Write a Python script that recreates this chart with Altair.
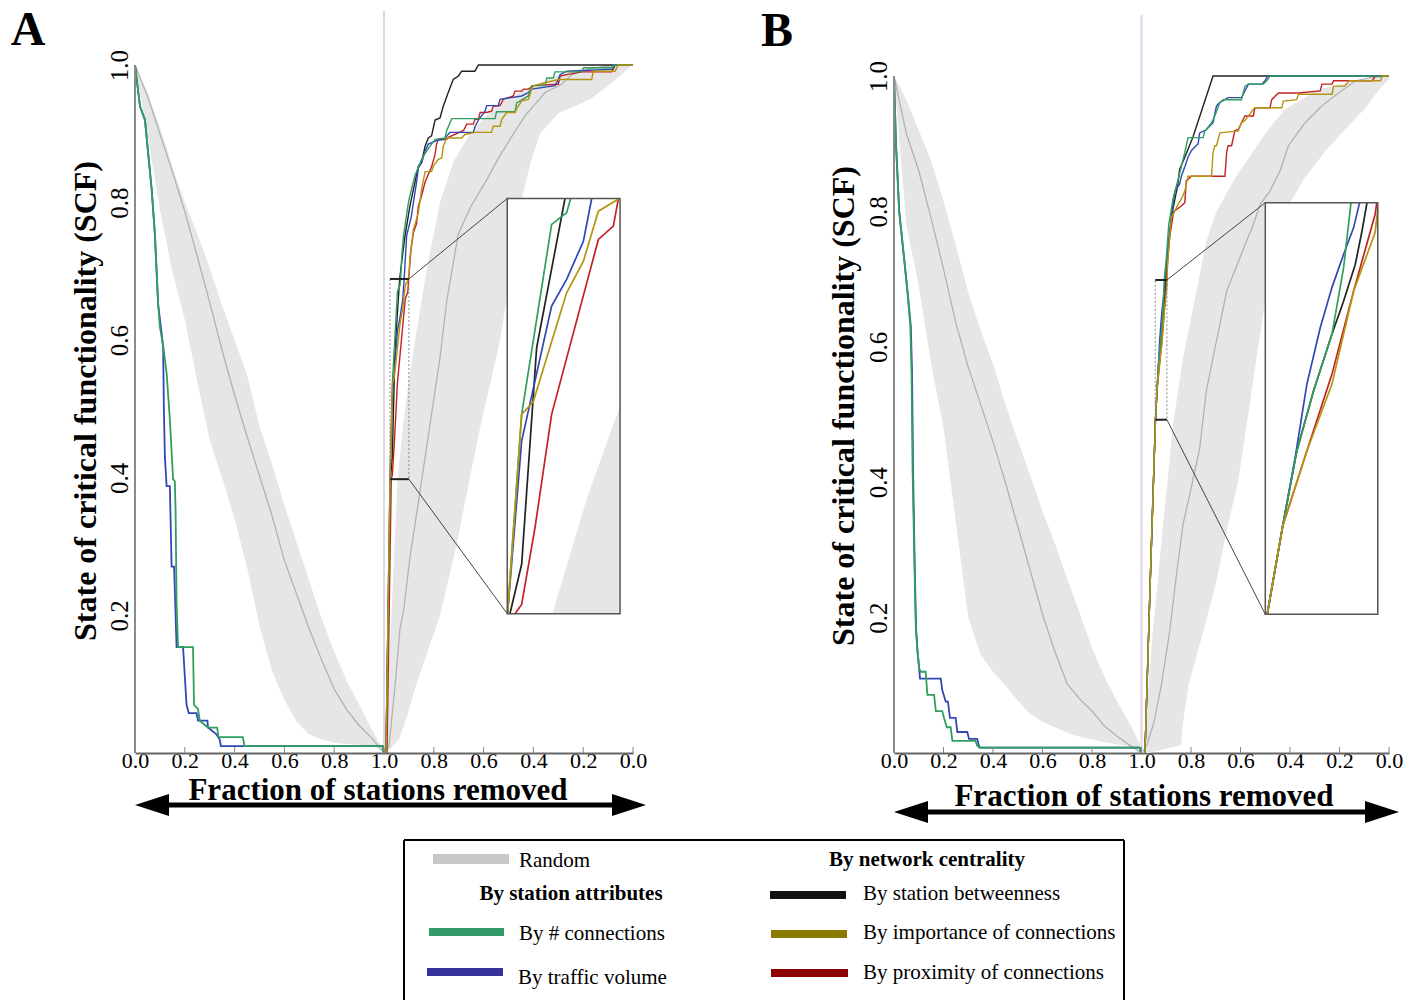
import altair as alt
import numpy as np
import pandas as pd

SERIF = "Liberation Serif"

# ------------------------------------------------------------------ data
# x axis is mirrored: 0..1 = fraction removed (failure), 1..2 = recovery (label 2 - x)
X_TICKS = [round(0.2 * k, 1) for k in range(11)]
Y_TICKS = [0.2, 0.4, 0.6, 0.8, 1.0]

LEG_RANDOM = "Random"
LEG_HEAD_ATTR = "By station attributes"
LEG_HEAD_NET = "By network centrality"
LEG_GREEN = "By # connections"
LEG_BLUE = "By traffic volume"
LEG_BLACK = "By station betweenness"
LEG_OLIVE = "By importance of connections"
LEG_RED = "By proximity of connections"
X_TITLE = "Fraction of stations removed"
Y_TITLE = "State of critical functionality (SCF)"

# random removal: sample positions, mean and 95% band (failure side)
RAND_X = [round(0.05 * k, 2) for k in range(21)]
A_RAND_MEAN = [1.0, 0.955, 0.90, 0.845, 0.787, 0.722, 0.655, 0.585, 0.52, 0.46, 0.403,
               0.345, 0.28, 0.23, 0.18, 0.135, 0.093, 0.063, 0.04, 0.022, 0.0]
A_RAND_HI = [1.0, 0.96, 0.91, 0.853, 0.80, 0.755, 0.705, 0.65, 0.60, 0.55, 0.475,
             0.42, 0.36, 0.305, 0.25, 0.195, 0.147, 0.105, 0.07, 0.035, 0.003]
A_RAND_LO = [1.0, 0.90, 0.79, 0.70, 0.63, 0.54, 0.455, 0.40, 0.34, 0.27, 0.185,
             0.12, 0.077, 0.045, 0.027, 0.02, 0.015, 0.013, 0.012, 0.01, 0.003]
B_RAND_MEAN = [1.0, 0.915, 0.86, 0.79, 0.715, 0.635, 0.57, 0.515, 0.46, 0.40, 0.335,
               0.27, 0.205, 0.15, 0.102, 0.08, 0.062, 0.04, 0.025, 0.012, 0.0]
B_RAND_HI = [1.0, 0.965, 0.92, 0.875, 0.815, 0.75, 0.68, 0.625, 0.575, 0.515, 0.462,
             0.41, 0.357, 0.31, 0.257, 0.207, 0.155, 0.113, 0.077, 0.045, 0.008]
B_RAND_LO = [1.0, 0.78, 0.69, 0.575, 0.48, 0.34, 0.2, 0.145, 0.12, 0.1, 0.077,
             0.058, 0.046, 0.038, 0.03, 0.024, 0.02, 0.016, 0.013, 0.01, 0.005]

# random recovery band (SCF level -> left/right edge on mirrored axis)
A_RV = [0.0, 0.02, 0.05, 0.1, 0.2, 0.3, 0.4, 0.48, 0.542, 0.6, 0.7, 0.8, 0.86, 0.9,
        0.93, 0.95, 0.97, 0.985, 0.995, 1.0]
A_RU_LEFT = [1.0, 1.004, 1.008, 1.015, 1.03, 1.042, 1.055, 1.078, 1.0995, 1.125, 1.17,
             1.225, 1.28, 1.345, 1.42, 1.486, 1.6, 1.7, 1.8, 1.95]
A_RU_RIGHT = [1.01, 1.06, 1.09, 1.13, 1.225, 1.29, 1.345, 1.39, 1.43, 1.466, 1.51,
              1.55, 1.59, 1.627, 1.7, 1.827, 1.9, 1.95, 1.98, 2.0]
B_RV = [0.0, 0.012, 0.05, 0.1, 0.18, 0.25, 0.338, 0.4, 0.485, 0.584, 0.682, 0.756,
        0.8, 0.85, 0.892, 0.92, 0.951, 0.98, 0.995, 1.0]
B_RU_LEFT = [1.02, 1.02, 1.022, 1.028, 1.046, 1.065, 1.087, 1.105, 1.127, 1.168, 1.222,
             1.262, 1.303, 1.38, 1.458, 1.51, 1.58, 1.715, 1.9, 2.0]
B_RU_RIGHT = [1.03, 1.16, 1.17, 1.19, 1.25, 1.30, 1.35, 1.39, 1.425, 1.465, 1.506,
              1.54, 1.58, 1.66, 1.75, 1.82, 1.9, 1.96, 2.0, 2.0]

A_RAND_MEAN_R = [(1.0, 0.0), (1.02, 0.01), (1.045, 0.1), (1.064, 0.18), (1.08, 0.21),
                 (1.104, 0.284), (1.145, 0.381), (1.185, 0.478), (1.225, 0.575),
                 (1.252, 0.657), (1.298, 0.754), (1.35, 0.795), (1.406, 0.829),
                 (1.473, 0.873), (1.566, 0.926), (1.647, 0.96), (1.714, 0.972),
                 (1.754, 0.986), (1.834, 0.995), (1.93, 1.0), (2.0, 1.0)]
B_RAND_MEAN_R = [(1.0, 0.0), (1.02, 0.01), (1.05, 0.045), (1.08, 0.1), (1.114, 0.18),
                 (1.14, 0.26), (1.168, 0.338), (1.2, 0.39), (1.235, 0.45), (1.262, 0.535),
                 (1.303, 0.609), (1.344, 0.682), (1.398, 0.732), (1.452, 0.781),
                 (1.479, 0.81), (1.519, 0.83), (1.56, 0.86), (1.594, 0.897),
                 (1.661, 0.931), (1.729, 0.956), (1.796, 0.975), (1.864, 0.993),
                 (1.932, 0.998), (2.0, 1.0)]

# targeted removal (failure side)
A_GREEN_L = [(0.0, 1.0), (0.02, 0.94), (0.04, 0.92), (0.067, 0.819), (0.08, 0.753),
             (0.093, 0.652), (0.10, 0.619), (0.113, 0.592), (0.127, 0.552), (0.14, 0.485),
             (0.147, 0.438), (0.153, 0.398), (0.16, 0.395), (0.163, 0.351), (0.167, 0.217),
             (0.173, 0.154), (0.233, 0.154), (0.237, 0.07), (0.253, 0.064), (0.26, 0.047),
             (0.293, 0.037), (0.33, 0.037), (0.335, 0.023), (0.433, 0.023), (0.44, 0.01),
             (0.995, 0.01), (1.0, 0.0)]
A_BLUE_L = [(0.0, 1.0), (0.02, 0.94), (0.04, 0.92), (0.067, 0.819), (0.08, 0.753),
            (0.093, 0.652), (0.107, 0.61), (0.113, 0.59), (0.116, 0.5), (0.12, 0.43),
            (0.127, 0.388), (0.14, 0.388), (0.147, 0.271), (0.157, 0.271), (0.167, 0.154),
            (0.193, 0.154), (0.207, 0.07), (0.216, 0.058), (0.247, 0.058), (0.253, 0.047),
            (0.291, 0.047), (0.293, 0.037), (0.327, 0.027), (0.34, 0.02), (0.345, 0.01),
            (0.995, 0.01), (1.0, 0.0)]
B_GREEN_L = [(0.0, 1.0), (0.008, 0.9), (0.021, 0.8), (0.041, 0.73), (0.055, 0.68),
             (0.066, 0.63), (0.071, 0.56), (0.075, 0.42), (0.082, 0.29), (0.088, 0.185),
             (0.095, 0.15), (0.102, 0.124), (0.108, 0.12), (0.128, 0.12), (0.132, 0.1),
             (0.135, 0.086), (0.162, 0.086), (0.169, 0.062), (0.195, 0.062), (0.202, 0.052),
             (0.213, 0.038), (0.229, 0.038), (0.236, 0.018), (0.329, 0.018), (0.336, 0.011),
             (0.349, 0.008), (0.992, 0.008), (0.999, 0.0)]
B_BLUE_L = [(0.0, 1.0), (0.008, 0.9), (0.021, 0.8), (0.041, 0.73), (0.055, 0.68),
            (0.068, 0.63), (0.073, 0.56), (0.077, 0.42), (0.083, 0.29), (0.089, 0.185),
            (0.095, 0.15), (0.102, 0.124), (0.105, 0.11), (0.189, 0.11), (0.195, 0.093),
            (0.209, 0.076), (0.218, 0.076), (0.226, 0.052), (0.249, 0.052), (0.256, 0.031),
            (0.296, 0.031), (0.303, 0.021), (0.336, 0.021), (0.345, 0.008), (0.992, 0.008),
            (0.999, 0.0)]

# targeted recovery (mirrored side)
A_BLACK_R = [(1.008, 0.0), (1.0258, 0.398), (1.0337, 0.4326), (1.0438, 0.5844), (1.0629, 0.689),
             (1.075, 0.725), (1.084, 0.751), (1.104, 0.795), (1.118, 0.819), (1.138, 0.853),
             (1.151, 0.858), (1.165, 0.882), (1.178, 0.894), (1.191, 0.897), (1.205, 0.92),
             (1.225, 0.923), (1.238, 0.94), (1.258, 0.96), (1.278, 0.979), (1.299, 0.984),
             (1.312, 0.991), (1.365, 0.991), (1.379, 1.0), (2.0, 1.0)]
A_GREEN_R = [(1.008, 0.0), (1.0242, 0.398), (1.0337, 0.5377), (1.0539, 0.6708), (1.064, 0.679),
             (1.0667, 0.689), (1.071, 0.72), (1.078, 0.751), (1.098, 0.80), (1.104, 0.81),
             (1.124, 0.839), (1.151, 0.863), (1.171, 0.875), (1.191, 0.885), (1.205, 0.892),
             (1.245, 0.894), (1.252, 0.905), (1.272, 0.922), (1.446, 0.922), (1.452, 0.932),
             (1.526, 0.932), (1.533, 0.945), (1.58, 0.955), (1.593, 0.97), (1.647, 0.97),
             (1.654, 0.981), (1.68, 0.981), (1.687, 0.99), (1.794, 0.99), (1.801, 0.996),
             (1.914, 0.996), (1.921, 1.0), (2.0, 1.0)]
A_BLUE_R = [(1.008, 0.0), (1.0242, 0.398), (1.0337, 0.519), (1.0539, 0.6136), (1.064, 0.6323),
            (1.0753, 0.6591), (1.0809, 0.689), (1.091, 0.752), (1.11, 0.78), (1.118, 0.80),
            (1.131, 0.83), (1.138, 0.85), (1.151, 0.858), (1.165, 0.875), (1.178, 0.885),
            (1.211, 0.89), (1.245, 0.892), (1.252, 0.897), (1.265, 0.902), (1.359, 0.902),
            (1.365, 0.91), (1.379, 0.92), (1.406, 0.933), (1.412, 0.941), (1.459, 0.941),
            (1.466, 0.95), (1.553, 0.955), (1.58, 0.96), (1.593, 0.965), (1.687, 0.97),
            (1.7, 0.979), (1.707, 0.986), (1.734, 0.991), (1.921, 0.994), (1.928, 1.0), (2.0, 1.0)]
A_RED_R = [(1.012, 0.0), (1.0292, 0.398), (1.0337, 0.4045), (1.0427, 0.4583), (1.0539, 0.5377),
           (1.0854, 0.6603), (1.0955, 0.6696), (1.0989, 0.689), (1.108, 0.73), (1.118, 0.756),
           (1.131, 0.77), (1.138, 0.795), (1.151, 0.81), (1.165, 0.83), (1.191, 0.852),
           (1.205, 0.87), (1.211, 0.885), (1.218, 0.892), (1.252, 0.892), (1.258, 0.895),
           (1.32, 0.905), (1.332, 0.914), (1.359, 0.914), (1.365, 0.921), (1.379, 0.921),
           (1.386, 0.931), (1.412, 0.931), (1.432, 0.933), (1.439, 0.94), (1.466, 0.941),
           (1.479, 0.95), (1.519, 0.955), (1.526, 0.962), (1.553, 0.962), (1.56, 0.965),
           (1.58, 0.965), (1.6, 0.97), (1.7, 0.972), (1.707, 0.984), (1.734, 0.986),
           (1.794, 0.99), (1.914, 0.99), (1.921, 0.996), (1.928, 1.0), (2.0, 1.0)]
A_OLIVE_R = [(1.008, 0.0), (1.0242, 0.398), (1.0337, 0.5377), (1.0415, 0.5465), (1.064, 0.6229),
             (1.0753, 0.6451), (1.0854, 0.6801), (1.0995, 0.689), (1.104, 0.72), (1.118, 0.761),
             (1.138, 0.785), (1.151, 0.819), (1.165, 0.845), (1.191, 0.845), (1.198, 0.853),
             (1.218, 0.863), (1.232, 0.865), (1.238, 0.882), (1.252, 0.894), (1.312, 0.894),
             (1.325, 0.899), (1.365, 0.902), (1.432, 0.902), (1.439, 0.911), (1.466, 0.911),
             (1.473, 0.921), (1.493, 0.931), (1.526, 0.931), (1.539, 0.94), (1.553, 0.948),
             (1.58, 0.95), (1.593, 0.965), (1.6, 0.97), (1.7, 0.979), (1.834, 0.979),
             (1.841, 0.991), (1.928, 0.991), (1.941, 1.0), (2.0, 1.0)]

B_TRUNK = [(1.014, 0.0), (1.035, 0.25), (1.0564, 0.4923), (1.0629, 0.5366)]
B_BLACK_R = B_TRUNK + [(1.0688, 0.5742), (1.0758, 0.6043), (1.0835, 0.6327), (1.0884, 0.6494),
                       (1.0933, 0.6678), (1.0961, 0.6845), (1.0982, 0.6987), (1.105, 0.73),
                       (1.115, 0.77), (1.125, 0.80), (1.147, 0.84), (1.154, 0.862),
                       (1.175, 0.88), (1.208, 0.91), (1.289, 1.0), (2.0, 1.0)]
B_GREEN_R = B_TRUNK + [(1.0688, 0.5742), (1.0758, 0.6043), (1.0835, 0.6327), (1.0884, 0.6661),
                       (1.0915, 0.6987), (1.1, 0.73), (1.11, 0.78), (1.128, 0.82), (1.15, 0.85),
                       (1.175, 0.887), (1.188, 0.909), (1.249, 0.909), (1.256, 0.919),
                       (1.262, 0.921), (1.283, 0.931), (1.296, 0.941), (1.317, 0.961),
                       (1.33, 0.965), (1.404, 0.965), (1.418, 0.985), (1.432, 0.988),
                       (1.492, 0.988), (1.506, 0.993), (1.519, 1.0), (2.0, 1.0)]
B_BLUE_R = B_TRUNK + [(1.0681, 0.5709), (1.073, 0.6076), (1.0786, 0.636), (1.0835, 0.6561),
                      (1.0884, 0.6728), (1.0926, 0.6862), (1.0951, 0.6987), (1.1, 0.72),
                      (1.11, 0.76), (1.12, 0.79), (1.135, 0.83), (1.154, 0.84), (1.161, 0.852),
                      (1.175, 0.866), (1.188, 0.88), (1.202, 0.89), (1.229, 0.9), (1.235, 0.916),
                      (1.26, 0.92), (1.27, 0.924), (1.289, 0.931), (1.303, 0.956), (1.317, 0.961),
                      (1.35, 0.968), (1.404, 0.968), (1.418, 0.978), (1.432, 0.988),
                      (1.486, 0.988), (1.499, 0.993), (1.51, 1.0), (2.0, 1.0)]
B_RED_R = B_TRUNK + [(1.073, 0.5742), (1.0835, 0.6126), (1.0926, 0.6544), (1.1016, 0.6929),
                     (1.106, 0.73), (1.113, 0.76), (1.13, 0.8), (1.161, 0.808), (1.175, 0.813),
                     (1.181, 0.845), (1.202, 0.852), (1.337, 0.852), (1.344, 0.887),
                     (1.35, 0.897), (1.364, 0.897), (1.377, 0.919), (1.391, 0.921),
                     (1.404, 0.931), (1.418, 0.941), (1.452, 0.941), (1.458, 0.953),
                     (1.519, 0.953), (1.526, 0.965), (1.553, 0.975), (1.634, 0.975),
                     (1.722, 0.978), (1.729, 0.988), (1.77, 0.988), (1.776, 0.993),
                     (1.932, 0.993), (1.945, 1.0), (2.0, 1.0)]
B_OLIVE_R = B_TRUNK + [(1.073, 0.5742), (1.0835, 0.6076), (1.0926, 0.6544), (1.1016, 0.6837),
                       (1.105, 0.72), (1.12, 0.79), (1.147, 0.81), (1.161, 0.818), (1.175, 0.83),
                       (1.188, 0.852), (1.283, 0.852), (1.289, 0.887), (1.296, 0.897),
                       (1.303, 0.897), (1.317, 0.916), (1.391, 0.919), (1.404, 0.931),
                       (1.418, 0.934), (1.432, 0.941), (1.452, 0.951), (1.458, 0.953),
                       (1.567, 0.953), (1.573, 0.963), (1.627, 0.965), (1.634, 0.973),
                       (1.77, 0.973), (1.776, 0.985), (1.82, 0.985), (1.84, 0.993),
                       (1.966, 0.993), (1.972, 1.0), (2.0, 1.0)]

# ------------------------------------------------------------------ styles
GREEN, BLUE, BLACK, OLIVE, RED = "#2f9e5f", "#3247b5", "#222222", "#b5940f", "#c42222"
L_GREEN, L_BLUE, L_BLACK, L_OLIVE, L_RED, L_GRAY = "#339966", "#333399", "#111111", "#8c7a00", "#8b0000", "#c8c8c8"
BAND, MEAN = "#e6e6e6", "#b2b2b2"
PLOT_H = 688
DUMMY = pd.DataFrame({"d": [0]})
LABEL_EXPR = "datum.value <= 1.0001 ? format(datum.value, '.1f') : format(2 - datum.value, '.1f')"


def pts_df(pts):
    df = pd.DataFrame(pts, columns=["x", "y"])
    df["i"] = np.arange(len(df))
    return df


def lb_clip(a, b, box):
    u0, u1, v0, v1 = box
    x0, y0 = a
    x1, y1 = b
    dx, dy = x1 - x0, y1 - y0
    t0, t1 = 0.0, 1.0
    for p, q in ((-dx, x0 - u0), (dx, u1 - x0), (-dy, y0 - v0), (dy, v1 - y0)):
        if p == 0:
            if q < 0:
                return None
        else:
            r = q / p
            if p < 0:
                if r > t1:
                    return None
                t0 = max(t0, r)
            else:
                if r < t0:
                    return None
                t1 = min(t1, r)
    return (x0 + t0 * dx, y0 + t0 * dy), (x0 + t1 * dx, y0 + t1 * dy)


def clip_to_inset(pts, src, dst):
    U0, U1, V0, V1 = src
    IU0, IU1, IV0, IV1 = dst
    rows = []
    piece, last = 0, None
    for a, b in zip(pts[:-1], pts[1:]):
        seg = lb_clip(a, b, src)
        if seg is None:
            if last is not None:
                piece += 1
                last = None
            continue
        p, q = seg
        if last is None or abs(last[0] - p[0]) > 1e-9 or abs(last[1] - p[1]) > 1e-9:
            if last is not None:
                piece += 1
            rows.append((p, piece))
        rows.append((q, piece))
        last = q
    out = pd.DataFrame({
        "x": [IU0 + (r[0][0] - U0) / (U1 - U0) * (IU1 - IU0) for r in rows],
        "y": [IV0 + (r[0][1] - V0) / (V1 - V0) * (IV1 - IV0) for r in rows],
        "piece": [r[1] for r in rows],
    })
    out["i"] = np.arange(len(out))
    return out


def value_text(s, x, y, size, bold=False, align="left", angle=None):
    kw = dict(text=s, font=SERIF, fontSize=size, fontWeight="bold" if bold else "normal",
              align=align, baseline="middle", color="black")
    if angle is not None:
        kw["angle"] = angle
    return alt.Chart(DUMMY).mark_text(**kw).encode(x=alt.value(x), y=alt.value(y))


def value_rule(x, y, x2, y2, color, width):
    return alt.Chart(DUMMY).mark_rule(color=color, strokeWidth=width).encode(
        x=alt.value(x), y=alt.value(y), x2=alt.value(x2), y2=alt.value(y2))


def head(x, y, shape):
    return alt.Chart(DUMMY).mark_point(shape=shape, size=1156, filled=True, color="black",
                                       opacity=1, strokeWidth=0).encode(x=alt.value(x), y=alt.value(y))


def make_panel(c):
    H = PLOT_H
    XS = alt.Scale(domain=[0, 2], nice=False, zero=False)
    YS = alt.Scale(domain=[0, c["ymax"]], nice=False, zero=False)
    xaxis = alt.Axis(values=X_TICKS, labelExpr=LABEL_EXPR, title=None, grid=False, ticks=False,
                     domainColor="#666666", domainWidth=2, labelFont=SERIF, labelFontSize=22,
                     labelColor="black", labelPadding=-3, labelFlush=False, labelOverlap=False)
    yaxis = alt.Axis(values=Y_TICKS, format=".1f", title=None, grid=False, ticks=False, domain=False,
                     labelAngle=270, labelAlign="center", labelBaseline="bottom", labelFont=SERIF,
                     labelFontSize=25, labelColor="black", labelPadding=3)

    def X(f):
        return alt.X(f, type="quantitative", scale=XS, axis=xaxis)

    def Y(f):
        return alt.Y(f, type="quantitative", scale=YS, axis=yaxis)

    def line(pts, color, width=1.5):
        return alt.Chart(pts_df(pts)).mark_line(color=color, strokeWidth=width).encode(
            x=X("x"), y=Y("y"), order="i:Q")

    L = []
    # random bands
    band = pd.DataFrame({"x": RAND_X, "hi": c["rand_hi"], "lo": c["rand_lo"], "m": c["rand_mean"]})
    L.append(alt.Chart(band).mark_area(color=BAND, opacity=1).encode(x=X("x"), y=Y("hi"), y2="lo"))
    rb = pd.DataFrame({"v": c["rv"], "ul": c["ru_left"], "ur": c["ru_right"]})
    L.append(alt.Chart(rb).mark_area(color=BAND, opacity=1, orient="horizontal").encode(
        y=Y("v"), x=X("ul"), x2="ur"))
    L.append(alt.Chart(band).mark_line(color=MEAN, strokeWidth=1.3).encode(x=X("x"), y=Y("m")))
    L.append(line(c["rand_mean_r"], MEAN, 1.3))
    # divider line at 1.0
    L.append(alt.Chart(pd.DataFrame({"x": [1.0]})).mark_rule(color="#e2d2ec", strokeWidth=2).encode(
        x=X("x"), y=alt.value(c["pink_top"]), y2=alt.value(H)))
    # strategy curves
    for pts, col in c["left_lines"]:
        L.append(line(pts, col, 1.8))
    for pts, col in c["right_lines"]:
        L.append(line(pts, col, 1.4))

    # zoom source rectangle + connectors + inset
    U0, U1, V0, V1 = c["src"]
    IU0, IU1, IV0, IV1 = c["dst"]
    rdf = pd.DataFrame({"u0": [U0], "u1": [U1], "v0": [V0], "v1": [V1]})
    L.append(alt.Chart(rdf).mark_rect(filled=False, color="#888888", strokeDash=[2, 2],
                                      strokeWidth=1).encode(x=X("u0"), x2="u1", y=Y("v0"), y2="v1"))
    for f in ("v0", "v1"):
        L.append(alt.Chart(rdf).mark_rule(color="#222222", strokeWidth=2).encode(
            x=X("u0"), x2="u1", y=Y(f)))
    conn = pd.DataFrame({"a": [U1, U1], "b": [V1, V0], "c": [IU0, IU0], "d": [IV1, IV0]})
    L.append(alt.Chart(conn).mark_rule(color="#444444", strokeWidth=1).encode(
        x=X("a"), y=Y("b"), x2="c", y2="d"))
    idf = pd.DataFrame({"u0": [IU0], "u1": [IU1], "v0": [IV0], "v1": [IV1]})
    L.append(alt.Chart(idf).mark_rect(color="white", opacity=1).encode(
        x=X("u0"), x2="u1", y=Y("v0"), y2="v1"))
    # band inside the zoom window
    rv = np.array(c["rv"], dtype=float)
    rl = np.array(c["ru_left"], dtype=float)
    vs = sorted(set([V0, V1] + [v for v in rv if V0 < v < V1] +
                    ([float(np.interp(U1, rl, rv))] if rl.min() < U1 else [])))
    vs = [v for v in vs if V0 <= v <= V1]
    lefts = [min(max(float(np.interp(v, rv, rl)), U0), U1) for v in vs]
    if any(l < U1 - 1e-9 for l in lefts):
        ib = pd.DataFrame({
            "v": [IV0 + (v - V0) / (V1 - V0) * (IV1 - IV0) for v in vs],
            "l": [IU0 + (l - U0) / (U1 - U0) * (IU1 - IU0) for l in lefts],
            "r": [IU1] * len(vs)})
        L.append(alt.Chart(ib).mark_area(color=BAND, opacity=1, orient="horizontal").encode(
            y=Y("v"), x=X("l"), x2="r"))
    for pts, col in c["right_lines"]:
        idat = clip_to_inset(pts, c["src"], c["dst"])
        if len(idat):
            L.append(alt.Chart(idat).mark_line(color=col, strokeWidth=1.7).encode(
                x=X("x"), y=Y("y"), detail="piece:N", order="i:Q"))
    L.append(alt.Chart(idf).mark_rect(filled=False, color="#555555", strokeWidth=1.5).encode(
        x=X("u0"), x2="u1", y=Y("v0"), y2="v1"))

    # inward x ticks and y axis line
    L.append(alt.Chart(pd.DataFrame({"t": X_TICKS})).mark_rule(color="#888888", strokeWidth=1).encode(
        x=X("t"), y=alt.value(H - 6), y2=alt.value(H)))
    L.append(alt.Chart(pd.DataFrame({"x": [0.0], "a": [0.0], "b": [1.0]})).mark_rule(
        color="#8a8a8a", strokeWidth=2).encode(x=X("x"), y=Y("a"), y2="b"))

    # texts, arrow
    L.append(value_text(c["letter"], c["letter_xy"][0], c["letter_xy"][1], 48, bold=True, align="center"))
    L.append(value_text(Y_TITLE, c["ytitle_xy"][0], c["ytitle_xy"][1], 32, bold=True,
                        align="center", angle=270))
    L.append(value_text(X_TITLE, c["xtitle_xy"][0], c["xtitle_xy"][1], 31, bold=True, align="center"))
    ay, t0, t1 = c["arrow"]
    L.append(value_rule(t0 + 20, ay, t1 - 20, ay, "black", 5))
    L.append(head(t0 + 17, ay, "M-1,0L1,-0.65L1,0.65Z"))
    L.append(head(t1 - 17, ay, "M1,0L-1,-0.65L-1,0.65Z"))
    L.extend(c.get("extra", []))
    return alt.layer(*L).properties(width=c["W"], height=H)


# legend (drawn in pixels relative to panel A's plot area)
def legend_layers():
    out = []
    bx0, bx1, by0, by1 = 269, 989, 775, 935
    out.append(value_rule(bx0, by0, bx1, by0, "black", 2))
    out.append(value_rule(bx0, by0, bx0, by1, "black", 2))
    out.append(value_rule(bx1, by0, bx1, by1, "black", 2))
    out.append(value_rule(298, 794, 374, 794, L_GRAY, 10))
    out.append(value_text(LEG_RANDOM, 384, 796, 21))
    out.append(value_text(LEG_HEAD_NET, 792, 795, 21, bold=True, align="center"))
    out.append(value_text(LEG_HEAD_ATTR, 436, 829, 21, bold=True, align="center"))
    items = [(L_BLACK, LEG_BLACK, 635, 711, 830, 728, 829),
             (L_GREEN, LEG_GREEN, 294, 369, 867, 384, 869),
             (L_OLIVE, LEG_OLIVE, 636, 712, 869, 728, 868),
             (L_BLUE, LEG_BLUE, 292, 368, 907, 383, 913),
             (L_RED, LEG_RED, 636, 713, 908, 728, 908)]
    for col, lab, sx0, sx1, sy, tx, ty in items:
        out.append(value_rule(sx0, sy, sx1, sy, col, 8))
        out.append(value_text(lab, tx, ty, 21))
    # page anchor (top-left corner of the page)
    out.append(value_rule(-134, -64, -133, -64, "white", 1))
    return out


PANEL_A = dict(
    W=498, ymax=1.0, rand_mean=A_RAND_MEAN, rand_hi=A_RAND_HI, rand_lo=A_RAND_LO,
    rv=A_RV, ru_left=A_RU_LEFT, ru_right=A_RU_RIGHT, rand_mean_r=A_RAND_MEAN_R,
    left_lines=[(A_BLUE_L, BLUE), (A_GREEN_L, GREEN)],
    right_lines=[(A_BLACK_R, BLACK), (A_RED_R, RED), (A_BLUE_R, BLUE), (A_GREEN_R, GREEN),
                 (A_OLIVE_R, OLIVE)],
    src=(1.024, 1.100, 0.398, 0.689), dst=(1.495, 1.948, 0.2025, 0.806),
    pink_top=-54, letter="A", letter_xy=(-107, -34), ytitle_xy=(-49, 336),
    xtitle_xy=(243, 726), arrow=(740, 0, 511), extra=legend_layers())

PANEL_B = dict(
    W=495, ymax=688 / 677, rand_mean=B_RAND_MEAN, rand_hi=B_RAND_HI, rand_lo=B_RAND_LO,
    rv=B_RV, ru_left=B_RU_LEFT, ru_right=B_RU_RIGHT, rand_mean_r=B_RAND_MEAN_R,
    left_lines=[(B_BLUE_L, BLUE), (B_GREEN_L, GREEN)],
    right_lines=[(B_BLACK_R, BLACK), (B_RED_R, RED), (B_BLUE_R, BLUE), (B_GREEN_R, GREEN),
                 (B_OLIVE_R, OLIVE)],
    src=(1.0556, 1.1027, 0.4923, 0.6987), dst=(1.5002, 1.9546, 0.2049, 0.8129),
    pink_top=-50, letter="B", letter_xy=(-117, -33), ytitle_xy=(-50, 341),
    xtitle_xy=(250, 732), arrow=(747, 0, 505))

chart = alt.hconcat(make_panel(PANEL_A), make_panel(PANEL_B), spacing=261, bounds="flush").properties(
    padding=0).configure_view(stroke=None)

chart.save("out.html", embed_options={"renderer": "svg", "actions": False})
